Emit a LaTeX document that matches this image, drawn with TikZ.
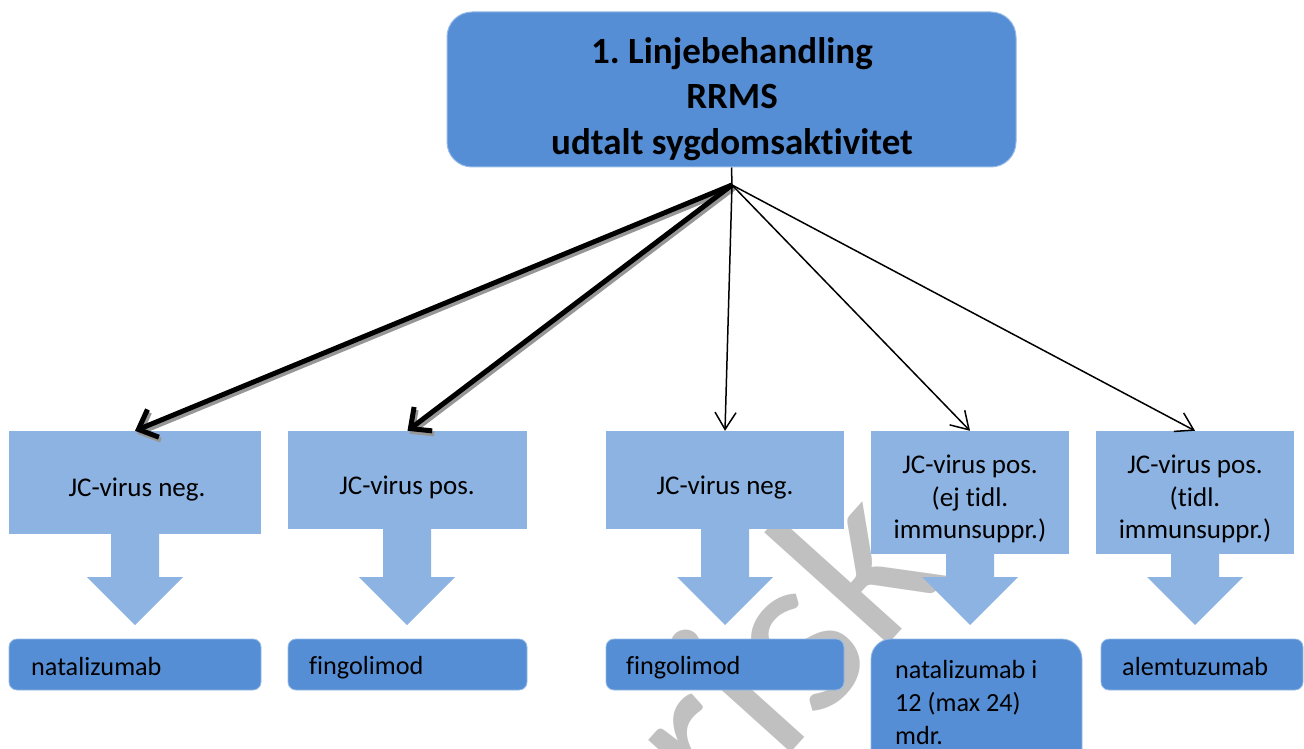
\documentclass[tikz,border=0pt]{standalone}
\usepackage{fontspec}
\setmainfont[Ligatures=NoCommon]{Carlito}
\usetikzlibrary{arrows.meta,calc}
\frenchspacing
\definecolor{topblue}{RGB}{85,142,213}
\definecolor{lightblue}{RGB}{141,179,226}
\definecolor{edgeblue}{RGB}{150,186,230}
\definecolor{wmgray}{RGB}{192,192,192}
\definecolor{shadowgray}{RGB}{150,150,150}
\newcommand{\blockstem}[2]{% #1 = x centre, #2 = y of rectangle bottom
  \fill[lightblue] (#1-24,#2-1) -- (#1-24,577) -- (#1-48,577) -- (#1,625)
    -- (#1+48,577) -- (#1+24,577) -- (#1+24,#2-1) -- cycle;}
\begin{document}
\begin{tikzpicture}[x=1pt,y=-1pt,
  topbox/.style={fill=topblue, draw=edgeblue, line width=1pt, rounded corners=25pt,
    minimum width=569pt, minimum height=155pt, inner sep=0pt},
  lightbox/.style={fill=lightblue, inner sep=0pt},
  darkbox/.style={fill=topblue, draw=edgeblue, line width=0.8pt, rounded corners=8pt,
    minimum height=51pt, inner sep=0pt},
  titletext/.style={font=\fontsize{37}{45.5}\selectfont\bfseries, align=center, inner sep=0pt},
  lighttext/.style={font=\fontsize{27}{32.5}\selectfont, align=center, inner sep=0pt},
  darktext/.style={font=\fontsize{26.2}{33}\selectfont, align=left, inner sep=0pt},
  watermark/.style={font=\fontsize{240}{240}\selectfont, text=wmgray, inner sep=0pt},
  thinarrow/.style={line width=1.5pt, -{Straight Barb[length=17pt,width=21pt]}},
  thickarrow/.style={line width=5pt, -{Straight Barb[length=16pt,width=30pt]}},
  thickshadow/.style={line width=5pt, draw=shadowgray, -{Straight Barb[length=16pt,width=30pt]}},
]
\useasboundingbox (0,0) rectangle (1304,749);
\clip (0,0) rectangle (1304,749);

% watermark
\node[watermark, rotate=48, anchor=base east] (wm) at (952,574) {Historisk};

% top box
\node[topbox] (top) at (731.5,89.5) {};
\node[titletext] (title) at (732,99) {1. Linjebehandling\\RRMS\\udtalt sygdomsaktivitet};
\coordinate (hub) at (732,185);

% light callouts
\node[lightbox, minimum width=252pt, minimum height=103pt] (c1) at (135,482.5) {};
\node[lightbox, minimum width=239pt, minimum height=98pt] (c2) at (407.5,480) {};
\node[lightbox, minimum width=238pt, minimum height=98pt] (c3) at (725,480) {};
\node[lightbox, minimum width=198pt, minimum height=123pt] (c4) at (970,492.5) {};
\node[lightbox, minimum width=198pt, minimum height=123pt] (c5) at (1195,492.5) {};
\blockstem{135}{534}
\blockstem{407}{529}
\blockstem{725}{529}
\blockstem{970}{554}
\blockstem{1195}{554}

\node[lighttext, anchor=base] (t1) at (137,496) {JC-virus neg.};
\node[lighttext, anchor=base] (t2) at (407,494) {JC-virus pos.};
\node[lighttext, anchor=base] (t3) at (725,494) {JC-virus neg.};
\node[lighttext] (t4) at (970,499) {JC-virus pos.\\(ej tidl.\\immunsuppr.)};
\node[lighttext] (t5) at (1195,499) {JC-virus pos.\\(tidl.\\immunsuppr.)};

% dark result boxes
\node[darkbox, minimum width=252pt] (d1) at (135,664.5) {};
\node[darkbox, minimum width=239pt] (d2) at (407.5,664.5) {};
\node[darkbox, minimum width=238pt] (d3) at (725,664.5) {};
\node[darkbox, minimum width=211pt, minimum height=131pt, rounded corners=20pt] (d4) at (976.5,704.5) {};
\node[darkbox, minimum width=202pt] (d5) at (1202,664.5) {};

\node[darktext, anchor=base west] (n1) at (31,675) {natalizumab};
\node[darktext, anchor=base west] (n2) at (309,674) {fingolimod};
\node[darktext, anchor=base west] (n3) at (626,674) {fingolimod};
\node[darktext, anchor=north west] (n4) at (895,660) {natalizumab i\\12 (max 24)\\mdr.};
\node[darktext, anchor=base west] (n5) at (1122,675) {alemtuzumab};

% connectors
\draw[line width=1.5pt] (top.south) -- (hub);
\draw[thickshadow] ([shift={(2,3)}]hub) -- ([shift={(2,3)}]c1.north);
\draw[thickshadow] ([shift={(2,3)}]hub) -- ([shift={(2,3)}]c2.north);
\draw[thickarrow] (hub) -- (c1.north);
\draw[thickarrow] (hub) -- (c2.north);
\draw[thinarrow] (hub) -- (c3.north);
\draw[thinarrow] (hub) -- (c4.north);
\draw[thinarrow] (hub) -- (c5.north);
\end{tikzpicture}
\end{document}
